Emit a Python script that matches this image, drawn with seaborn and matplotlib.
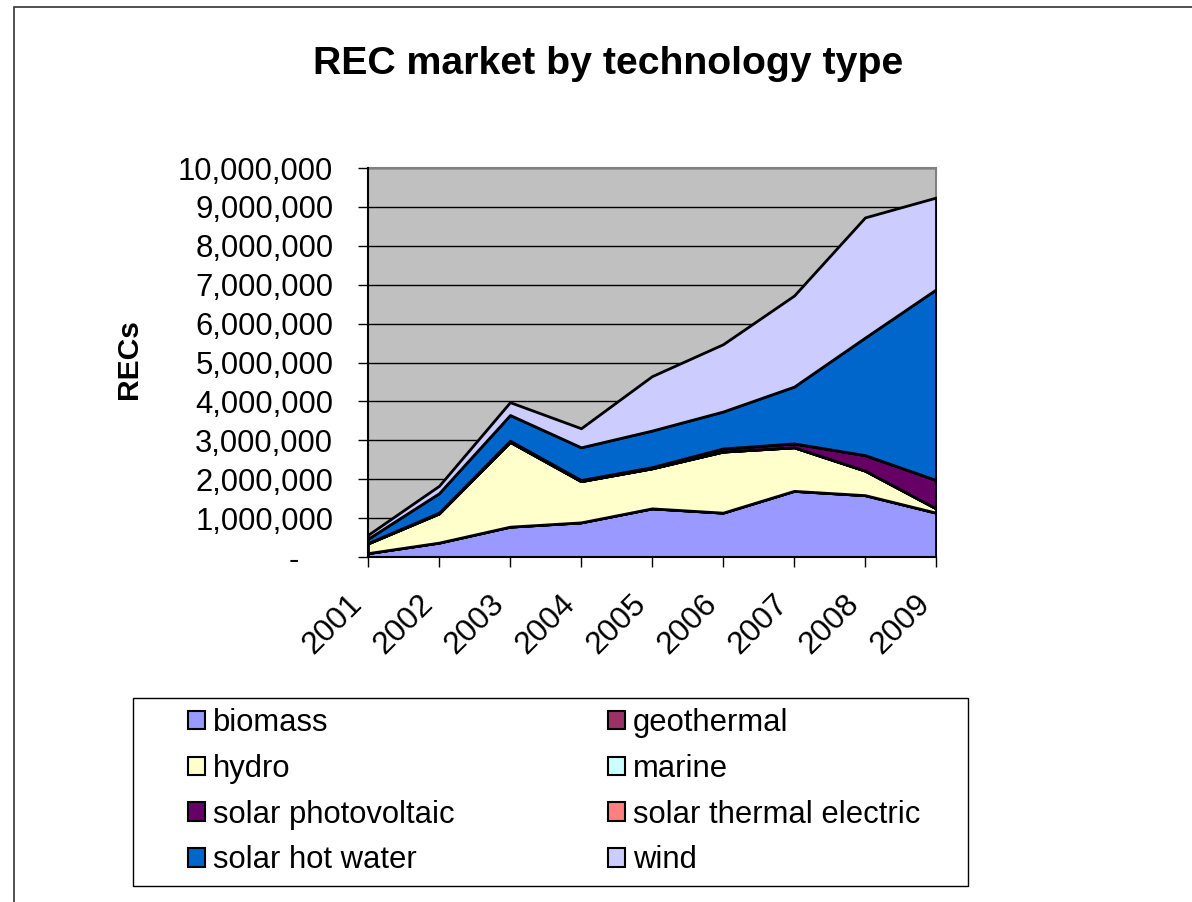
import numpy as np
import matplotlib
matplotlib.use("Agg")
import matplotlib.pyplot as plt
import seaborn as sns
from matplotlib.patches import Rectangle, Patch
from matplotlib.transforms import ScaledTranslation

# ---- data ----
years = ["2001", "2002", "2003", "2004", "2005", "2006", "2007", "2008", "2009"]
biomass = [100000, 370000, 780000, 890000, 1250000, 1140000, 1700000, 1590000, 1140000]
geothermal = [0, 0, 0, 0, 0, 0, 0, 0, 0]
hydro = [250000, 750000, 2180000, 1060000, 1030000, 1570000, 1120000, 630000, 110000]
marine = [0, 0, 0, 0, 0, 0, 0, 0, 0]
solar_pv = [10000, 20000, 30000, 30000, 30000, 80000, 100000, 400000, 730000]
solar_thermal = [0, 0, 0, 0, 0, 0, 0, 0, 0]
solar_hot_water = [110000, 500000, 660000, 840000, 940000, 950000, 1460000, 3020000, 4900000]
wind = [100000, 190000, 330000, 490000, 1400000, 1730000, 2340000, 3090000, 2360000]

series_names = ["biomass", "geothermal", "hydro", "marine", "solar photovoltaic",
                "solar thermal electric", "solar hot water", "wind"]
series_values = [biomass, geothermal, hydro, marine, solar_pv, solar_thermal,
                 solar_hot_water, wind]
series_colors = ["#9999FF", "#993366", "#FFFFCC", "#CCFFFF", "#660066", "#FF8080",
                 "#0066CC", "#CCCCFF"]
y_ticks = [0, 1000000, 2000000, 3000000, 4000000, 5000000, 6000000, 7000000, 8000000,
           9000000, 10000000]

sns.set_style("white")
plt.rcParams["font.family"] = ["Liberation Sans", "DejaVu Sans"]
plt.rcParams["text.color"] = "black"
plt.rcParams["xtick.color"] = "black"
plt.rcParams["ytick.color"] = "black"

W, H = 1192, 902
fig = plt.figure(figsize=(W / 100, H / 100), dpi=100)
fig.patch.set_facecolor("white")

# outer chart border
fig.add_artist(Rectangle((14 / W, -0.05), 1.2, 1 - 7 / H + 0.05, transform=fig.transFigure,
                         fill=False, edgecolor="#333333", linewidth=1.2))

L, R, T, B = 368, 936, 168, 557
ax = fig.add_axes([L / W, 1 - B / H, (R - L) / W, (B - T) / H])
ax.set_facecolor("#C0C0C0")

x = np.arange(len(years))
ax.stackplot(x, *series_values, colors=series_colors, edgecolor="black", linewidth=2.0,
             zorder=3)

ax.set_xlim(0, len(years) - 1)
ax.set_ylim(0, 10000000)
ax.set_yticks(y_ticks)
ax.set_yticklabels(["-" if v == 0 else f"{v:,}" for v in y_ticks])
ax.set_xticks(x)
ax.set_xticklabels(years, rotation=45, ha="right", va="top")

ax.set_axisbelow(True)
ax.yaxis.grid(True, color="black", linewidth=1.0)
ax.xaxis.grid(False)

ax.tick_params(axis="y", direction="out", length=7, width=1, color="black",
               labelcolor="black", labelsize=22.3, pad=18, left=True)
ax.tick_params(axis="x", direction="out", length=7, width=1, color="black",
               labelcolor="black", labelsize=22.8, pad=16, bottom=True)

for s in ["left", "bottom"]:
    ax.spines[s].set_color("black")
    ax.spines[s].set_linewidth(1.5)
for s in ["top", "right"]:
    ax.spines[s].set_color("#808080")
    ax.spines[s].set_linewidth(1.5)
ax.spines["left"].set_zorder(5)
ax.spines["bottom"].set_zorder(5)

# shift the "-" zero label like Excel accounting format
zero_lbl = ax.get_yticklabels()[0]
zero_lbl.set_transform(zero_lbl.get_transform() + ScaledTranslation(-0.34, 0, fig.dpi_scale_trans))

# title and axis label
fig.text(608 / W, 1 - 74 / H, "REC market by technology type", ha="center", va="baseline",
         fontsize=28.3, fontweight="bold", color="black")
fig.text(129 / W, 1 - 359 / H, "RECs", ha="center", va="center", rotation=90,
         fontsize=21.6, fontweight="bold", color="black")

# legend frame
fig.add_artist(Rectangle((133 / W, 1 - 886 / H), (968 - 133) / W, (886 - 698) / H,
                         transform=fig.transFigure, fill=False, edgecolor="black",
                         linewidth=1.0))
handles = [Patch(facecolor=c, edgecolor="black", linewidth=1.5) for c in series_colors]
# row-major order like Excel: left column gets even indices, right column odd
order = [0, 2, 4, 6, 1, 3, 5, 7]
fig.legend([handles[i] for i in order], [series_names[i] for i in order], loc="upper left",
           bbox_to_anchor=(188 / W, 1 - 708 / H), ncol=2, frameon=False,
           fontsize=22.3, handlelength=0.55, handleheight=0.55, handletextpad=0.25,
           labelspacing=0.51, columnspacing=4.96, borderpad=0, borderaxespad=0,
           labelcolor="black")

fig.savefig("out.png", dpi=100)
